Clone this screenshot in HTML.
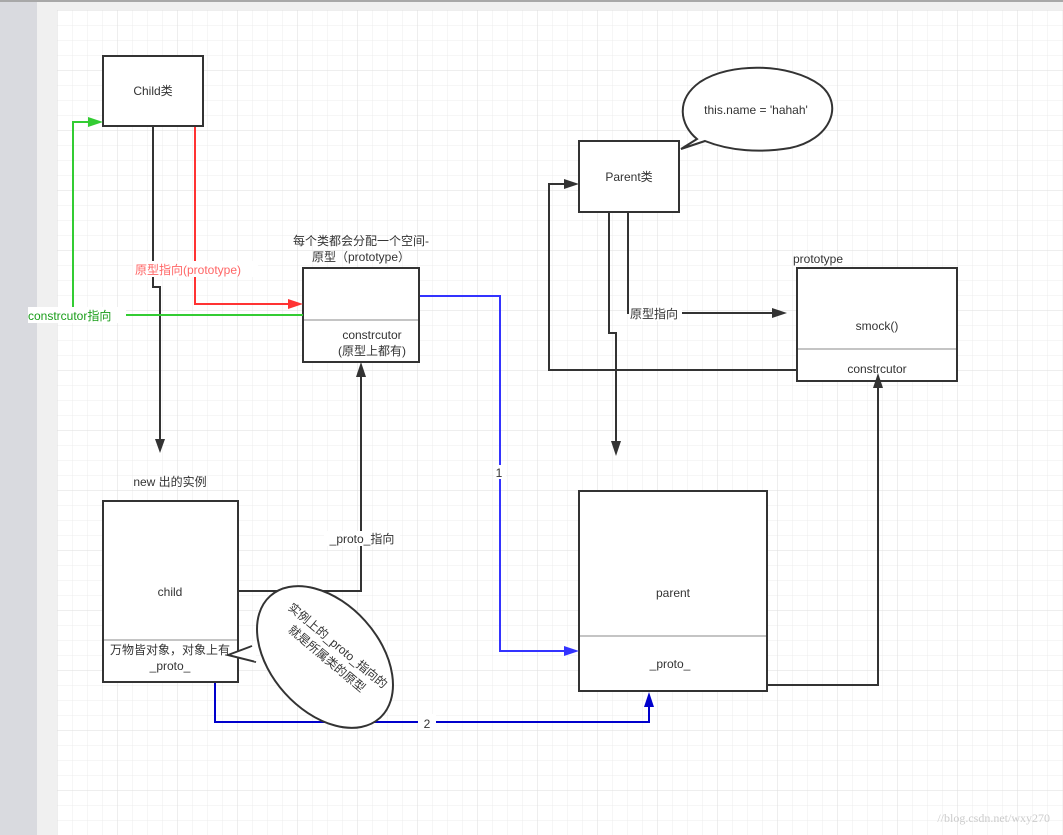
<!DOCTYPE html>
<html><head><meta charset="utf-8">
<style>
html,body{margin:0;padding:0;width:1063px;height:835px;overflow:hidden;background:#fff}
svg{display:block}
text{font-family:"Liberation Sans","Noto Sans CJK SC",sans-serif;font-size:12px;fill:#333}
</style></head><body>
<svg width="1063" height="835" viewBox="0 0 1063 835" xmlns="http://www.w3.org/2000/svg">
<defs>
<pattern id="minor" x="57" y="10" width="15" height="15" patternUnits="userSpaceOnUse">
<path d="M0 0H15M0 0V15" stroke="#ececec" stroke-width="1" fill="none"/>
</pattern>
<pattern id="major" x="57" y="10" width="60" height="60" patternUnits="userSpaceOnUse">
<path d="M0 0H60M0 0V60" stroke="#dedede" stroke-width="1" fill="none"/>
</pattern>
</defs>
<rect x="0" y="0" width="1063" height="835" fill="#f0f0f0"/>
<rect x="0" y="0" width="37" height="835" fill="#d9dadf"/>
<rect x="57" y="10" width="1006" height="825" fill="#fff"/>
<rect x="57" y="10" width="1006" height="825" fill="url(#minor)"/>
<rect x="57" y="10" width="1006" height="825" fill="url(#major)"/>
<rect x="0" y="0" width="1063" height="2" fill="#a8a8a8"/>

<g fill="#fff" stroke="#333" stroke-width="2">
<rect x="103" y="56" width="100" height="70"/>
<rect x="579" y="141" width="100" height="71"/>
<rect x="303" y="268" width="116" height="94"/>
<rect x="797" y="268" width="160" height="113"/>
<rect x="103" y="501" width="135" height="181"/>
<rect x="579" y="491" width="188" height="200"/>
</g>
<g stroke="#888" stroke-width="1">
<line x1="304" y1="320" x2="418" y2="320"/>
<line x1="798" y1="349" x2="956" y2="349"/>
<line x1="104" y1="640" x2="237" y2="640"/>
<line x1="580" y1="636" x2="766" y2="636"/>
</g>

<!-- connectors -->
<g fill="none" stroke-width="2">
<path d="M153 127V287H160V440" stroke="#333"/>
<path d="M195 127V304H290" stroke="#f33"/>
<path d="M303 315H73V122H90" stroke="#3c3"/>
<path d="M420 296H500V651H566" stroke="#33f"/>
<path d="M239 591H361V377" stroke="#333"/>
<path d="M215 683V722H649V705" stroke="#00c"/>
<path d="M628 213V313H774" stroke="#333"/>
<path d="M609 213V333H616V442" stroke="#333"/>
<path d="M796 370H549V184H566" stroke="#333"/>
<path d="M768 685H878V388" stroke="#333"/>
</g>
<g stroke="none">
<polygon points="160,453 155,439 165,439" fill="#333"/>
<polygon points="303,304 288,299 288,309" fill="#f33"/>
<polygon points="103,122 88,117 88,127" fill="#3c3"/>
<polygon points="579,651 564,646 564,656" fill="#33f"/>
<polygon points="361,362 356,377 366,377" fill="#333"/>
<polygon points="649,692 644,707 654,707" fill="#00c"/>
<polygon points="787,313 772,308 772,318" fill="#333"/>
<polygon points="616,456 611,441 621,441" fill="#333"/>
<polygon points="579,184 564,179 564,189" fill="#333"/>
<polygon points="878,373 873,388 883,388" fill="#333"/>
</g>

<!-- label backgrounds -->
<rect x="28" y="307" width="98" height="16" fill="#fff"/>
<rect x="133" y="261" width="125" height="16" fill="#fff"/>
<rect x="494" y="465" width="12" height="14" fill="#fff"/>
<rect x="324" y="531" width="76" height="15" fill="#fff"/>
<rect x="418" y="714" width="18" height="16" fill="#fff"/>
<rect x="629" y="305" width="53" height="16" fill="#fff"/>

<!-- speech bubbles -->
<path d="M681,149 L697,139 C680,125 675,100 700,82 C730,62 790,63 820,85 C845,105 830,140 790,148 C760,153 730,151 705,141 Z" fill="#fff" stroke="#333" stroke-width="2"/>
<g transform="translate(325,657) rotate(48)">
<ellipse cx="0" cy="0" rx="82" ry="54" fill="#fff" stroke="#333" stroke-width="2"/>
</g>
<path d="M252,646 L228,655 L256,662" fill="#fff" stroke="#333" stroke-width="2" stroke-linejoin="miter"/>
<line x1="252" y1="647" x2="256" y2="661" stroke="#fff" stroke-width="3"/>

<!-- texts -->
<text x="153" y="95" text-anchor="middle" font-size="13">Child类</text>
<text x="629" y="181" text-anchor="middle" font-size="13">Parent类</text>
<text x="756" y="114" text-anchor="middle" font-size="13">this.name = 'hahah'</text>
<text x="361" y="245" text-anchor="middle">每个类都会分配一个空间-</text>
<text x="361" y="261" text-anchor="middle">原型（prototype）</text>
<text x="372" y="339" text-anchor="middle">constrcutor</text>
<text x="372" y="355" text-anchor="middle">(原型上都有)</text>
<text x="793" y="263">prototype</text>
<text x="877" y="330" text-anchor="middle" font-size="13">smock()</text>
<text x="877" y="373" text-anchor="middle" font-size="13">constrcutor</text>
<text x="170" y="486" text-anchor="middle">new 出的实例</text>
<text x="170" y="596" text-anchor="middle">child</text>
<text x="170" y="654" text-anchor="middle">万物皆对象，对象上有</text>
<text x="170" y="670" text-anchor="middle">_proto_</text>
<text x="673" y="597" text-anchor="middle">parent</text>
<text x="670" y="668" text-anchor="middle">_proto_</text>
<text x="28" y="320" style="fill:#1a9e1a" font-size="13">constrcutor指向</text>
<text x="135" y="274" style="fill:#f66" font-size="13">原型指向(prototype)</text>
<text x="499" y="477" text-anchor="middle">1</text>
<text x="362" y="543" text-anchor="middle">_proto_指向</text>
<text x="427" y="728" text-anchor="middle" font-size="16">2</text>
<text x="630" y="318">原型指向</text>
<g transform="translate(330,655) rotate(40)">
<text x="0" y="-8" text-anchor="middle" font-size="13">实例上的_proto_指向的</text>
<text x="0" y="9" text-anchor="middle" font-size="13">就是所属类的原型</text>
</g>
<text x="1050" y="822" text-anchor="end" style="font-family:'Liberation Serif',serif;fill:#ccc" font-size="17">//blog.csdn.net/wxy270</text>
</svg>
</body></html>
